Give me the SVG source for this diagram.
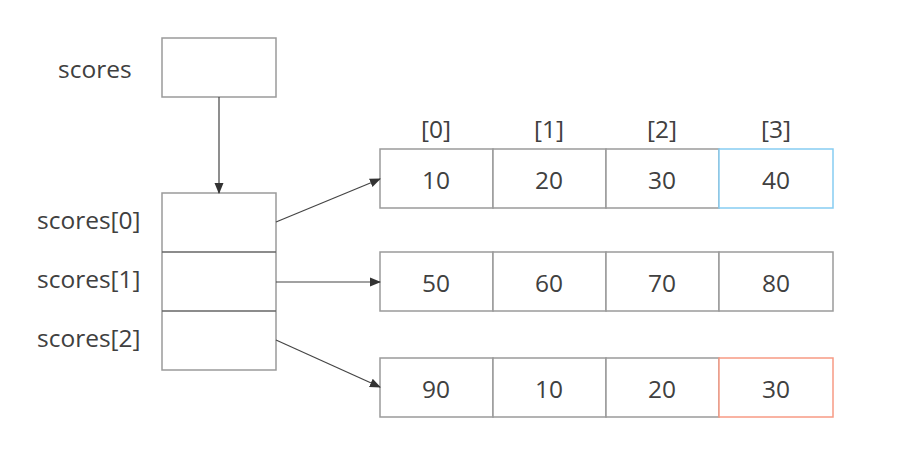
<svg xmlns="http://www.w3.org/2000/svg" width="904" height="464" viewBox="0 0 904 464">
<style>
.box{fill:#fff;stroke:#9a9a9a;stroke-width:1.5}
.t{font-family:"Open Sans","Noto Sans",sans-serif;font-size:24.5px;fill:#404040}
.c{text-anchor:middle}
.e{stroke:#444;stroke-width:1.2;fill:none}
</style>
<defs>
<marker id="ah" markerWidth="11" markerHeight="11" refX="10" refY="5.5" orient="auto" markerUnits="userSpaceOnUse">
<path d="M0,1 L11,5.5 L0,10 Z" fill="#333"/>
</marker>
</defs>
<rect width="904" height="464" fill="#fff"/>
<g id="scores">
<rect class="box" x="162" y="38" width="114" height="59"/>
<text class="t" x="58" y="78">scores</text>
</g>
<g id="stack">
<rect class="box" x="162" y="193" width="114" height="177"/>
<line x1="162" y1="252" x2="276" y2="252" stroke="#666" stroke-width="1.5"/>
<line x1="162" y1="311" x2="276" y2="311" stroke="#666" stroke-width="1.5"/>
<text class="t" x="37" y="229">scores[0]</text>
<text class="t" x="37" y="288">scores[1]</text>
<text class="t" x="37" y="347">scores[2]</text>
</g>
<g id="indices" class="t c">
<text x="436" y="138">[0]</text>
<text x="549" y="138">[1]</text>
<text x="662" y="138">[2]</text>
<text x="776" y="138">[3]</text>
</g>
<g id="row0">
<rect class="box" x="380" y="149" width="113" height="59"/>
<rect class="box" x="493" y="149" width="113" height="59"/>
<rect class="box" x="606" y="149" width="113" height="59"/>
<rect x="719" y="149" width="114" height="59" fill="#fff" stroke="#86cdf2" stroke-width="1.5"/>
<g class="t c">
<text x="436" y="189">10</text><text x="549" y="189">20</text><text x="662" y="189">30</text><text x="776" y="189">40</text>
</g>
</g>
<g id="row1">
<rect class="box" x="380" y="252" width="113" height="59"/>
<rect class="box" x="493" y="252" width="113" height="59"/>
<rect class="box" x="606" y="252" width="113" height="59"/>
<rect class="box" x="719" y="252" width="114" height="59"/>
<g class="t c">
<text x="436" y="292">50</text><text x="549" y="292">60</text><text x="662" y="292">70</text><text x="776" y="292">80</text>
</g>
</g>
<g id="row2">
<rect class="box" x="380" y="358" width="113" height="59"/>
<rect class="box" x="493" y="358" width="113" height="59"/>
<rect class="box" x="606" y="358" width="113" height="59"/>
<rect x="719" y="358" width="114" height="59" fill="#fff" stroke="#f79a84" stroke-width="1.5"/>
<g class="t c">
<text x="436" y="398">90</text><text x="549" y="398">10</text><text x="662" y="398">20</text><text x="776" y="398">30</text>
</g>
</g>
<g id="connectors">
<line class="e" x1="276" y1="222" x2="380" y2="179" marker-end="url(#ah)"/>
<line class="e" x1="219" y1="97" x2="219" y2="193" marker-end="url(#ah)"/>
<line class="e" x1="276" y1="282" x2="380" y2="282" marker-end="url(#ah)"/>
<line class="e" x1="276" y1="340" x2="380" y2="387" marker-end="url(#ah)"/>
</g>
</svg>
